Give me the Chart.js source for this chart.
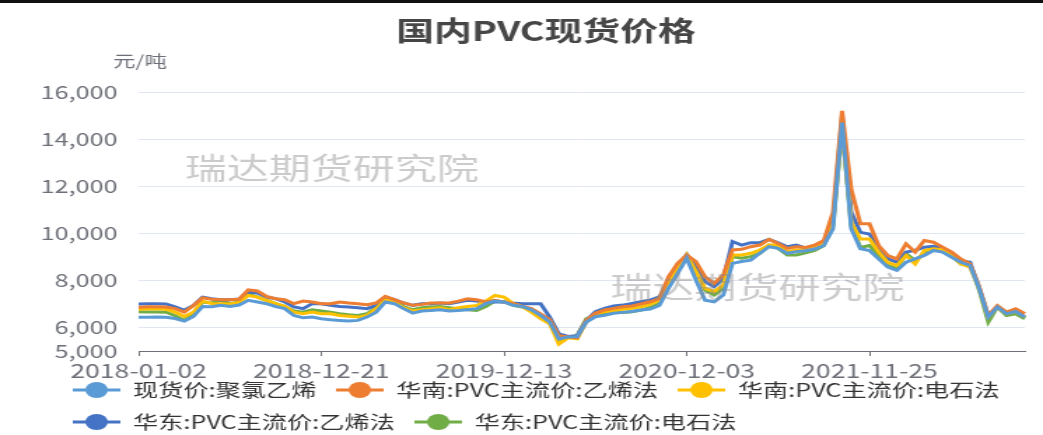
<!DOCTYPE html>
<html>
<head>
<meta charset="utf-8">
<script src="https://cdn.jsdelivr.net/npm/chart.js@4/dist/chart.umd.min.js"></script>
<style>
  html, body { margin: 0; padding: 0; background: #fff; overflow: hidden; }
  #topBar { position: absolute; left: 0; top: 0; width: 1043px; height: 3px; background: #111; z-index: 2; }
  /* the source picture is stretched sideways, so the chart is drawn narrow and widened */
  #wrap { position: absolute; left: 0; top: 0; width: 745px; height: 435px; transform: scaleX(1.4); transform-origin: 0 0; }
</style>
</head>
<body>
<div id="topBar"></div>
<div id="wrap"><canvas id="pvcChart" width="745" height="435"></canvas></div>
<script>
// labels under the x axis, one every tickStep points
const xTickLabels = ["2018-01-02", "2018-12-21", "2019-12-13", "2020-12-03", "2021-11-25"];
const tickStep = 20;

// y axis ticks (元/吨)
const yTickValues = [5000, 6000, 8000, 10000, 12000, 14000, 16000];

// 现货价:聚氯乙烯
const spotPvc = [
  6430, 6430, 6440, 6430, 6380, 6270, 6470, 6890, 6880, 6940,
  6890, 6950, 7150, 7080, 7010, 6890, 6800, 6510, 6410, 6440,
  6370, 6330, 6300, 6270, 6300, 6440, 6650, 7080, 7010, 6800,
  6610, 6700, 6720, 6750, 6700, 6720, 6750, 6800, 7010, 7120,
  7080, 6940, 6890, 6750, 6510, 6230, 5510, 5590, 5600, 6230,
  6455, 6520, 6600, 6640, 6680, 6740, 6780, 6930, 7660, 8300,
  8940, 8010, 7160, 7090, 7380, 8720, 8800, 8860, 9150, 9430,
  9360, 9150, 9220, 9260, 9330, 9480, 10190, 14700, 10190, 9340,
  9270, 8910, 8560, 8420, 8770, 8910, 9060, 9270, 9200, 8980,
  8770, 8630, 7660, 6440, 6860, 6580, 6680, 6440
];

// 华南:PVC主流价:乙烯法
const southEthylene = [
  6860, 6880, 6880, 6870, 6800, 6650, 6930, 7260, 7200, 7180,
  7180, 7200, 7600, 7550, 7320, 7220, 7180, 7010, 7120, 7080,
  7010, 7010, 7080, 7040, 7010, 6970, 7040, 7320, 7180, 7040,
  6940, 6980, 7040, 7040, 7040, 7120, 7220, 7180, 7080, 7150,
  7080, 7010, 6900, 6800, 6580, 6330, 5650, 5600, 5560, 6300,
  6600, 6740, 6810, 6880, 6910, 7000, 7090, 7230, 8150, 8720,
  9080, 8800, 8150, 7870, 8230, 9290, 9320, 9430, 9500, 9740,
  9570, 9360, 9430, 9400, 9500, 9690, 10890, 15200, 11880, 10400,
  10400, 9480, 9050, 8910, 9550, 9200, 9690, 9620, 9410, 9200,
  8910, 8700, 7730, 6510, 6930, 6650, 6790, 6580
];

// 华南:PVC主流价:电石法
const southCarbide = [
  6770, 6780, 6780, 6770, 6650, 6470, 6650, 7120, 7020, 7010,
  7000, 7060, 7360, 7290, 7150, 7010, 6900, 6650, 6580, 6650,
  6580, 6580, 6510, 6480, 6440, 6510, 6800, 7180, 7080, 6840,
  6700, 6750, 6800, 6840, 6750, 6840, 6890, 6930, 7120, 7360,
  7290, 7010, 6890, 6650, 6370, 6160, 5300, 5560, 5520, 6230,
  6580, 6670, 6700, 6770, 6810, 6880, 6990, 7160, 7870, 8510,
  9080, 8370, 7660, 7520, 7800, 9080, 9080, 9150, 9290, 9500,
  9500, 9220, 9290, 9300, 9400, 9560, 10470, 14500, 10470, 9760,
  9760, 9200, 8770, 8630, 9050, 8700, 9270, 9340, 9300, 9050,
  8700, 8560, 7660, 6440, 6860, 6580, 6680, 6440
];

// 华东:PVC主流价:乙烯法
const eastEthylene = [
  7000, 7010, 7010, 7000, 6880, 6730, 6940, 7290, 7220, 7180,
  7180, 7210, 7500, 7460, 7290, 7220, 7080, 6870, 6800, 7010,
  7010, 6940, 6890, 6870, 6840, 6800, 6940, 7290, 7180, 7040,
  6940, 7010, 7010, 7040, 7010, 7080, 7150, 7120, 7080, 7080,
  7080, 7040, 7010, 7010, 7010, 6440, 5730, 5620, 5650, 6300,
  6670, 6810, 6910, 6950, 7020, 7090, 7160, 7300, 7940, 8580,
  9100, 8580, 7940, 7730, 8080, 9650, 9500, 9600, 9600, 9740,
  9600, 9430, 9500, 9370, 9480, 9620, 10470, 14990, 10890, 10040,
  9970, 9410, 8910, 8770, 9200, 9270, 9410, 9450, 9370, 9080,
  8840, 8770, 7700, 6480, 6900, 6620, 6680, 6440
];

// 华东:PVC主流价:电石法
const eastCarbide = [
  6670, 6660, 6660, 6650, 6500, 6300, 6580, 7080, 7040, 7150,
  7010, 7080, 7430, 7290, 7150, 7010, 6890, 6700, 6650, 6750,
  6700, 6650, 6580, 6540, 6510, 6580, 6840, 7220, 7120, 6890,
  6750, 6840, 6870, 6890, 6840, 6800, 6750, 6720, 6890, 7120,
  7080, 6940, 6870, 6720, 6510, 6300, 5440, 5600, 5650, 6370,
  6525, 6600, 6670, 6640, 6670, 6740, 6850, 7020, 7800, 8510,
  9080, 8440, 7590, 7380, 7660, 9010, 8940, 9010, 9150, 9500,
  9360, 9080, 9080, 9170, 9270, 9480, 10330, 14420, 10330, 9400,
  9480, 9050, 8630, 8490, 9130, 8840, 9130, 9310, 9270, 9050,
  8700, 8700, 7590, 6230, 6860, 6510, 6580, 6370
];

const seriesNames = ["现货价:聚氯乙烯", "华南:PVC主流价:乙烯法", "华南:PVC主流价:电石法", "华东:PVC主流价:乙烯法", "华东:PVC主流价:电石法"];
const seriesColors = ["#5B9BD5", "#ED7D31", "#FFC000", "#4472C4", "#70AD47"];
const seriesData = [spotPvc, southEthylene, southCarbide, eastEthylene, eastCarbide];

const chartTitle = "国内PVC现货价格";
const unitName = "元/吨";
const watermark = "瑞达期货研究院";

Chart.defaults.font.family = "'Noto Sans CJK SC', 'Noto Sans', sans-serif";

// legend symbol: short line with a dot in the middle
function makeMarker (color) {
    const c = document.createElement("canvas");
    c.width = 34; c.height = 18;
    const g = c.getContext("2d");
    g.strokeStyle = color; g.lineWidth = 3;
    g.beginPath(); g.moveTo(0, 9); g.lineTo(34, 9); g.stroke();
    g.fillStyle = color;
    g.beginPath(); g.arc(17, 9, 8, 0, Math.PI * 2); g.fill();
    return c; }
const legendMarkers = seriesColors.map(makeMarker);

// title, unit and watermarks; also puts the legend where the original has it
const overlayText = {
    id: "overlayText",
    afterLayout (chart) {
        const lg = chart.legend;
        const dy = 367 - lg.top;
        lg.top += dy; lg.bottom += dy;
        lg.left = 38; },
    afterDatasetsDraw (chart) {
        const ctx = chart.ctx;
        ctx.save();
        ctx.font = "30px 'Noto Sans CJK SC'";
        ctx.fillStyle = "rgba(140,140,140,0.45)";
        ctx.textAlign = "center"; ctx.textBaseline = "middle";
        ctx.fillText(watermark, 237, 168);
        ctx.fillText(watermark, 541, 287);
        ctx.restore(); },
    afterDraw (chart) {
        const ctx = chart.ctx;
        ctx.save();
        ctx.textAlign = "center"; ctx.textBaseline = "middle";
        ctx.font = "bold 27px 'Noto Sans CJK SC'";
        ctx.fillStyle = "#464646";
        ctx.fillText(chartTitle, 390, 31);
        ctx.font = "16px 'Noto Sans CJK SC'";
        ctx.fillStyle = "#6E7079";
        ctx.fillText(unitName, chart.chartArea.left + 1, 61);
        ctx.restore(); }
};

const pvcChart = new Chart("pvcChart", {
    type: "line",
    data: {
        labels: spotPvc.map((v, i) => i),
        datasets: seriesData.map((values, i) => ({
            label: seriesNames[i],
            data: values,
            borderColor: seriesColors[i],
            backgroundColor: seriesColors[i],
            borderWidth: 3,
            pointRadius: 0,
            tension: 0
        }))
    },
    options: {
        responsive: false,
        animation: false,
        layout: { padding: { top: 92, left: 10, right: 13, bottom: -21 } },
        plugins: {
            title: { display: false },
            tooltip: { enabled: false },
            legend: {
                position: "bottom",
                align: "start",
                labels: {
                    usePointStyle: true,
                    pointStyleWidth: 34,
                    padding: 14,
                    color: "#333",
                    font: { size: 18 },
                    generateLabels (chart) {
                        return chart.data.datasets.map((ds, i) => ({
                            text: ds.label, pointStyle: legendMarkers[i], fillStyle: ds.borderColor,
                            strokeStyle: ds.borderColor, lineWidth: 0, hidden: false, datasetIndex: i, fontColor: "#333" })); }
                }
            }
        },
        scales: {
            x: {
                afterFit (scale) { scale.height = 31; },
                border: { display: true, color: "#6E7079", width: 1 },
                grid: {
                    drawOnChartArea: false, drawTicks: true, tickLength: 5,
                    tickColor: (ctx) => ctx.index % tickStep === 0 ? "#6E7079" : "rgba(0,0,0,0)"
                },
                ticks: {
                    autoSkip: false, maxRotation: 0, minRotation: 0, padding: 3,
                    color: "#6E7079", font: { size: 19 },
                    callback: (value, index) => index % tickStep === 0 ? (xTickLabels[index / tickStep] || "") : ""
                }
            },
            y: {
                min: 5000, max: 16000,
                afterFit (scale) { scale.width = 89; },
                afterBuildTicks (scale) { scale.ticks = yTickValues.map(v => ({ value: v })); },
                border: { display: false },
                grid: {
                    drawTicks: false,
                    color: (ctx) => ctx.tick && ctx.tick.value === 5000 ? "rgba(0,0,0,0)" : "#E0E6F1"
                },
                ticks: {
                    padding: 15, color: "#6E7079", font: { size: 18 },
                    callback: (value) => value.toLocaleString("en-US")
                }
            }
        }
    },
    plugins: [overlayText]
});
</script>
</body>
</html>
